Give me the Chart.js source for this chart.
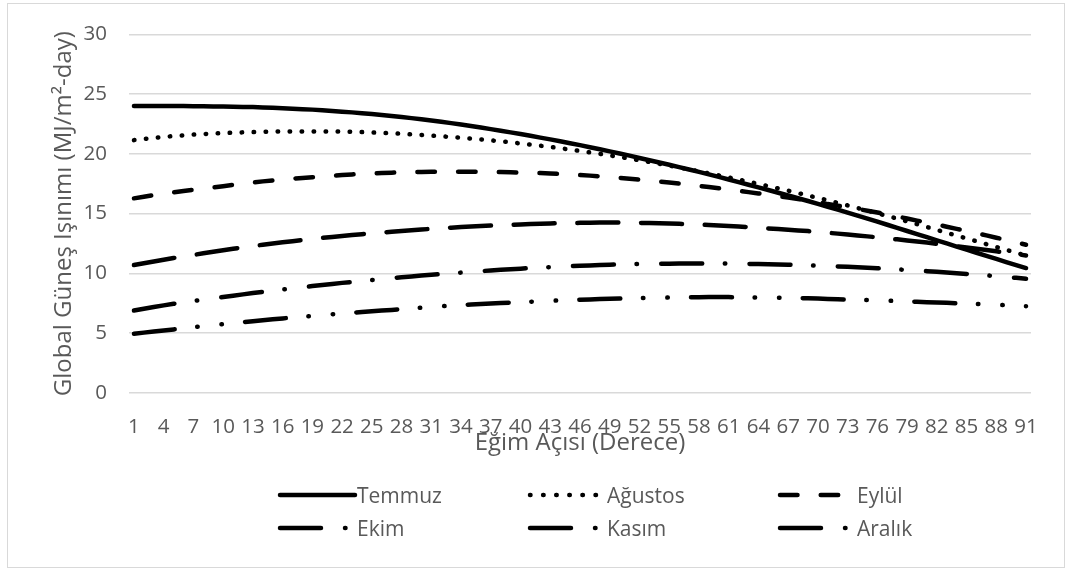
<!DOCTYPE html>
<html>
<head>
<meta charset="utf-8">
<script src="https://cdn.jsdelivr.net/npm/chart.js@4/dist/chart.umd.min.js"></script>
<style>
  html, body { margin: 0; padding: 0; background: #fff; }
  #wrap { width: 1068px; height: 571px; }
</style>
</head>
<body>
<div id="wrap"><canvas id="c" width="1068" height="571"></canvas></div>
<script>
// ---- data ----
const categories = [
  1, 2, 3, 4, 5, 6, 7, 8, 9, 10,
  11, 12, 13, 14, 15, 16, 17, 18, 19, 20,
  21, 22, 23, 24, 25, 26, 27, 28, 29, 30,
  31, 32, 33, 34, 35, 36, 37, 38, 39, 40,
  41, 42, 43, 44, 45, 46, 47, 48, 49, 50,
  51, 52, 53, 54, 55, 56, 57, 58, 59, 60,
  61, 62, 63, 64, 65, 66, 67, 68, 69, 70,
  71, 72, 73, 74, 75, 76, 77, 78, 79, 80,
  81, 82, 83, 84, 85, 86, 87, 88, 89, 90,
  91
];

const seriesNames = ["Temmuz", "Ağustos", "Eylül", "Ekim", "Kasım", "Aralık"];

const temmuz = [
  24.00, 24.00, 24.00, 24.00, 24.00, 24.00, 23.99, 23.98, 23.97, 23.96,
  23.95, 23.93, 23.91, 23.88, 23.85, 23.82, 23.78, 23.74, 23.70, 23.65,
  23.59, 23.53, 23.47, 23.40, 23.33, 23.25, 23.17, 23.08, 22.99, 22.89,
  22.79, 22.68, 22.57, 22.45, 22.33, 22.20, 22.07, 21.94, 21.80, 21.66,
  21.51, 21.36, 21.21, 21.05, 20.89, 20.73, 20.56, 20.39, 20.21, 20.03,
  19.85, 19.66, 19.47, 19.28, 19.09, 18.89, 18.69, 18.49, 18.28, 18.07,
  17.86, 17.64, 17.42, 17.20, 16.98, 16.75, 16.52, 16.29, 16.06, 15.82,
  15.58, 15.34, 15.09, 14.84, 14.59, 14.33, 14.07, 13.81, 13.55, 13.29,
  13.03, 12.77, 12.51, 12.25, 11.99, 11.73, 11.47, 11.21, 10.95, 10.70,
  10.45
];

const agustos = [
  21.15, 21.25, 21.34, 21.42, 21.49, 21.55, 21.61, 21.66, 21.70, 21.74,
  21.77, 21.80, 21.82, 21.84, 21.86, 21.87, 21.88, 21.88, 21.88, 21.88,
  21.87, 21.86, 21.84, 21.82, 21.79, 21.76, 21.72, 21.68, 21.63, 21.58,
  21.52, 21.47, 21.41, 21.35, 21.28, 21.21, 21.13, 21.05, 20.96, 20.87,
  20.78, 20.68, 20.58, 20.47, 20.36, 20.24, 20.12, 20.00, 19.87, 19.74,
  19.60, 19.46, 19.32, 19.17, 19.02, 18.86, 18.70, 18.54, 18.37, 18.20,
  18.03, 17.85, 17.67, 17.49, 17.30, 17.11, 16.92, 16.72, 16.52, 16.32,
  16.11, 15.90, 15.69, 15.47, 15.25, 15.03, 14.81, 14.58, 14.35, 14.12,
  13.88, 13.64, 13.40, 13.16, 12.93, 12.69, 12.45, 12.21, 11.97, 11.73,
  11.49
];

const eylul = [
  16.28, 16.42, 16.55, 16.67, 16.79, 16.90, 17.00, 17.10, 17.20, 17.30,
  17.40, 17.50, 17.60, 17.70, 17.78, 17.86, 17.93, 17.99, 18.05, 18.11,
  18.17, 18.23, 18.28, 18.33, 18.37, 18.40, 18.43, 18.45, 18.47, 18.49,
  18.50, 18.51, 18.51, 18.51, 18.50, 18.50, 18.49, 18.48, 18.46, 18.44,
  18.42, 18.39, 18.36, 18.32, 18.28, 18.23, 18.18, 18.12, 18.06, 17.99,
  17.92, 17.85, 17.77, 17.69, 17.60, 17.51, 17.42, 17.32, 17.22, 17.12,
  17.02, 16.91, 16.80, 16.69, 16.58, 16.46, 16.34, 16.22, 16.09, 15.96,
  15.80, 15.67, 15.53, 15.39, 15.25, 15.10, 14.93, 14.76, 14.59, 14.42,
  14.25, 14.08, 13.91, 13.73, 13.55, 13.37, 13.18, 12.99, 12.80, 12.60,
  12.40
];

const ekim = [
  10.70, 10.85, 11.00, 11.15, 11.29, 11.42, 11.55, 11.68, 11.81, 11.94,
  12.06, 12.18, 12.29, 12.40, 12.50, 12.60, 12.70, 12.79, 12.88, 12.97,
  13.05, 13.13, 13.21, 13.28, 13.35, 13.42, 13.49, 13.55, 13.61, 13.67,
  13.73, 13.78, 13.83, 13.88, 13.92, 13.96, 14.00, 14.04, 14.07, 14.10,
  14.13, 14.16, 14.18, 14.20, 14.22, 14.23, 14.24, 14.25, 14.25, 14.25,
  14.24, 14.23, 14.22, 14.20, 14.18, 14.15, 14.12, 14.09, 14.05, 14.01,
  13.97, 13.92, 13.87, 13.82, 13.76, 13.71, 13.66, 13.60, 13.54, 13.47,
  13.40, 13.33, 13.26, 13.18, 13.10, 13.02, 12.94, 12.85, 12.76, 12.67,
  12.58, 12.48, 12.38, 12.28, 12.18, 12.07, 11.96, 11.85, 11.74, 11.62,
  11.50
];

const kasim = [
  6.90, 7.05, 7.19, 7.33, 7.46, 7.58, 7.70, 7.81, 7.92, 8.03,
  8.14, 8.25, 8.36, 8.46, 8.56, 8.66, 8.76, 8.85, 8.94, 9.03,
  9.12, 9.21, 9.29, 9.37, 9.45, 9.53, 9.61, 9.68, 9.75, 9.82,
  9.89, 9.95, 10.01, 10.07, 10.13, 10.19, 10.25, 10.30, 10.35, 10.40,
  10.45, 10.49, 10.53, 10.57, 10.61, 10.64, 10.67, 10.70, 10.73, 10.75,
  10.77, 10.79, 10.80, 10.81, 10.82, 10.83, 10.83, 10.83, 10.83, 10.83,
  10.82, 10.81, 10.80, 10.79, 10.77, 10.75, 10.73, 10.71, 10.68, 10.65,
  10.62, 10.59, 10.55, 10.51, 10.47, 10.43, 10.39, 10.34, 10.29, 10.24,
  10.19, 10.14, 10.08, 10.02, 9.96, 9.90, 9.84, 9.77, 9.70, 9.63,
  9.56
];

const aralik = [
  4.95, 5.05, 5.14, 5.23, 5.32, 5.41, 5.50, 5.59, 5.68, 5.77,
  5.85, 5.93, 6.01, 6.09, 6.17, 6.24, 6.31, 6.38, 6.45, 6.52,
  6.59, 6.65, 6.71, 6.77, 6.83, 6.89, 6.95, 7.01, 7.07, 7.13,
  7.19, 7.25, 7.31, 7.36, 7.40, 7.44, 7.48, 7.52, 7.56, 7.60,
  7.63, 7.67, 7.71, 7.74, 7.77, 7.80, 7.83, 7.86, 7.88, 7.90,
  7.92, 7.94, 7.96, 7.97, 7.98, 7.99, 8.00, 8.01, 8.02, 8.02,
  8.02, 8.01, 8.00, 7.99, 7.98, 7.97, 7.96, 7.94, 7.92, 7.90,
  7.87, 7.84, 7.82, 7.80, 7.78, 7.75, 7.72, 7.69, 7.66, 7.63,
  7.60, 7.57, 7.54, 7.51, 7.48, 7.45, 7.42, 7.38, 7.34, 7.30,
  7.26
];

const yTitle = "Global Güneş Işınımı (MJ/m²-day)";
const xTitle = "Eğim Açısı (Derece)";

// ---- styles ----
const TEXT = '#595959';
const FONT = '"Open Sans", "Liberation Sans", sans-serif';
const lineStyles = [
  { dash: [],                                 legendDash: [] },
  { dash: [0.5, 11.5],                        legendDash: [0.5, 12.6] },
  { dash: [17.5, 23.2],                       legendDash: [17.5, 23.2] },
  { dash: [41, 22.7],                         legendDash: [41, 24, 0.5, 100] },
  { dash: [41, 22.6, 0.5, 24.2],              legendDash: [41, 24, 0.5, 100] },
  { dash: [41, 22.6, 0.5, 23.9, 0.5, 23.2],   legendDash: [41, 24, 0.5, 100] }
];
const seriesValues = [temmuz, agustos, eylul, ekim, kasim, aralik];

const datasets = seriesNames.map((name, i) => ({
  label: name,
  data: seriesValues[i],
  borderColor: '#000000',
  backgroundColor: '#000000',
  borderWidth: 4.5,
  borderDash: lineStyles[i].dash,
  legendDash: lineStyles[i].legendDash,
  borderCapStyle: 'round',
  borderJoinStyle: 'round',
  pointRadius: 0,
  pointHoverRadius: 0,
  tension: 0,
  fill: false
}));

// frame + custom legend (Excel-like fixed columns)
const excelDecor = {
  id: 'excelDecor',
  beforeDraw(chart) {
    const c = chart.ctx;
    c.save();
    c.fillStyle = '#ffffff';
    c.fillRect(0, 0, chart.width, chart.height);
    c.strokeStyle = '#d9d9d9';
    c.lineWidth = 1;
    c.strokeRect(7.5, 3.5, 1057, 564);
    c.restore();
  },
  afterDraw(chart) {
    const c = chart.ctx;
    const cols = [278, 528, 778];
    const rows = [495, 528];
    chart.data.datasets.forEach((ds, i) => {
      const x0 = cols[i % 3];
      const y = rows[Math.floor(i / 3)];
      c.save();
      c.strokeStyle = ds.borderColor;
      c.lineWidth = ds.borderWidth;
      c.lineCap = 'round';
      c.setLineDash(ds.legendDash);
      c.beginPath();
      c.moveTo(x0 + 2, y);
      c.lineTo(x0 + 77, y);
      c.stroke();
      c.setLineDash([]);
      c.fillStyle = TEXT;
      c.font = '21px ' + FONT;
      c.textBaseline = 'alphabetic';
      c.textAlign = 'left';
      c.fillText(ds.label, x0 + 79, y + 8);
      c.restore();
    });
  }
};

new Chart(document.getElementById('c'), {
  type: 'line',
  data: { labels: categories, datasets },
  plugins: [excelDecor],
  options: {
    responsive: false,
    animation: false,
    devicePixelRatio: 1,
    layout: { padding: { top: 32, right: 37, bottom: 116, left: 0 } },
    plugins: {
      legend: { display: false },
      tooltip: { enabled: false }
    },
    scales: {
      x: {
        type: 'category',
        offset: true,
        grid: { display: false, drawTicks: false },
        border: { display: false },
        ticks: {
          autoSkip: false,
          maxRotation: 0,
          minRotation: 0,
          padding: 22,
          color: TEXT,
          font: { family: FONT, size: 20.5 },
          callback: function (value, index) {
            return index % 3 === 0 ? this.getLabelForValue(value) : null;
          }
        },
        title: {
          display: true,
          text: xTitle,
          color: TEXT,
          font: { family: FONT, size: 24 },
          padding: { top: 0, bottom: -3 }
        },
        afterFit(scale) { scale.height = 62; }
      },
      y: {
        min: 0,
        max: 30,
        ticks: {
          stepSize: 5,
          padding: 22,
          color: TEXT,
          font: { family: FONT, size: 20.5 }
        },
        grid: { color: '#d9d9d9', lineWidth: 1.5, drawTicks: false },
        border: { display: false },
        title: {
          display: true,
          text: yTitle,
          color: TEXT,
          font: { family: FONT, size: 24 },
          padding: { top: 50, bottom: 0 }
        },
        afterFit(scale) { scale.width = 129; }
      }
    }
  }
});
</script>
</body>
</html>
